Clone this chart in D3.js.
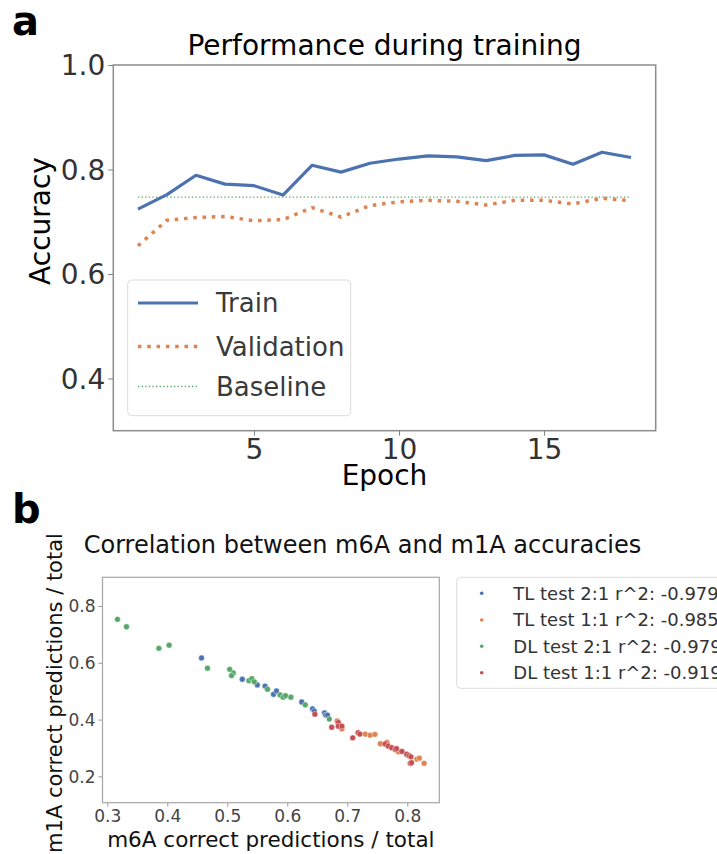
<!DOCTYPE html>
<html>
<head>
<meta charset="utf-8">
<script src="https://cdn.jsdelivr.net/npm/d3@7/dist/d3.min.js"></script>
<style>
  html, body { margin: 0; padding: 0; background: #fff; }
  svg { display: block; font-family: "DejaVu Sans", sans-serif; }
</style>
</head>
<body>
<svg id="chart" width="717" height="854"></svg>
<script>
// ---------- Panel a data ----------
const epochs = [1,2,3,4,5,6,7,8,9,10,11,12,13,14,15,16,17,18];
const trainAcc = [0.724,0.752,0.789,0.772,0.769,0.751,0.808,0.795,0.812,0.820,0.826,0.824,0.817,0.827,0.828,0.810,0.833,0.823];
const valAcc = [0.654,0.703,0.708,0.710,0.702,0.704,0.727,0.709,0.731,0.738,0.741,0.739,0.732,0.741,0.741,0.734,0.745,0.740];
const baselineAcc = 0.747;
const accTicks = [0.4,0.6,0.8,1.0];
const epochTicks = [5,10,15];
const lineLabels = ["Train","Validation","Baseline"];

// ---------- Panel b data ----------
const seriesNames = ["TL test 2:1 r^2: -0.979","TL test 1:1 r^2: -0.985","DL test 2:1 r^2: -0.979","DL test 1:1 r^2: -0.919"];
const tl21_m6A = [0.457,0.525,0.550,0.563,0.577,0.582,0.624,0.642,0.645,0.662,0.664,0.667];
const tl21_m1A = [0.617,0.542,0.522,0.518,0.489,0.501,0.462,0.438,0.430,0.424,0.416,0.416];
const tl11_m6A = [0.683,0.691,0.730,0.738,0.746,0.755,0.766,0.785,0.800,0.816,0.820,0.828];
const tl11_m1A = [0.395,0.367,0.349,0.345,0.348,0.315,0.320,0.287,0.275,0.261,0.264,0.246];
const dl21_m6A = [0.317,0.332,0.386,0.403,0.467,0.504,0.510,0.507,0.536,0.541,0.545,0.567,0.588,0.593,0.597,0.606,0.630,0.670];
const dl21_m1A = [0.753,0.727,0.651,0.662,0.581,0.577,0.564,0.555,0.537,0.544,0.533,0.507,0.487,0.479,0.484,0.479,0.452,0.402];
const dl11_m6A = [0.646,0.674,0.685,0.685,0.691,0.709,0.718,0.721,0.763,0.768,0.774,0.780,0.782,0.791,0.799,0.803,0.805,0.807,0.806];
const dl11_m1A = [0.419,0.373,0.390,0.377,0.377,0.336,0.354,0.349,0.314,0.307,0.301,0.295,0.298,0.288,0.278,0.273,0.246,0.248,0.269];
const m6ATicks = [0.3,0.4,0.5,0.6,0.7,0.8];
const m1ATicks = [0.2,0.4,0.6,0.8];

const colors = ["#4c72b0","#dd8452","#55a868","#c44e52"];
const textCol = "#262626";
const tickCol = "#333333";

const svg = d3.select("#chart");

// ================= Panel a =================
const A = {left:113.3, right:655.7, top:65, bottom:430.7};
const xA = d3.scaleLinear().domain([0.15,18.85]).range([A.left,A.right]);
const yA = d3.scaleLinear().domain([0.3,1.0]).range([A.bottom,A.top]);

svg.append("text").attr("x",12).attr("y",35).attr("font-size",40).attr("font-weight","bold")
  .attr("fill","#000").text("a");
svg.append("text").attr("x",(A.left+A.right)/2).attr("y",55).attr("text-anchor","middle")
  .attr("font-size",28).attr("fill","#000").text("Performance during training");

const gA = svg.append("g");
// axes
const yAxisA = d3.axisLeft(yA).tickValues(accTicks).tickFormat(d3.format(".1f")).tickSize(5).tickPadding(3);
const xAxisA = d3.axisBottom(xA).tickValues(epochTicks).tickFormat(d3.format("d")).tickSize(5).tickPadding(3);
const gyA = gA.append("g").attr("transform",`translate(${A.left},0)`).call(yAxisA);
const gxA = gA.append("g").attr("transform",`translate(0,${A.bottom})`).call(xAxisA);
[gyA,gxA].forEach(g=>{
  g.select(".domain").remove();
  g.selectAll(".tick line").attr("stroke","#808080").attr("stroke-width",1);
  g.selectAll(".tick text").attr("fill",tickCol).attr("font-size",28).attr("font-family","DejaVu Sans");
});
gyA.selectAll(".tick text").attr("dy","0.35em");
gxA.selectAll(".tick text").attr("dy","0.72em");

// lines
const lineGen = d3.line().x((d,i)=>xA(epochs[i])).y(d=>yA(d));
gA.append("line").attr("x1",xA(epochs[0])).attr("x2",xA(epochs[epochs.length-1]))
  .attr("y1",yA(baselineAcc)).attr("y2",yA(baselineAcc))
  .attr("stroke",colors[2]).attr("stroke-width",1.3).attr("stroke-dasharray","1.3,2.3");
gA.append("path").datum(valAcc).attr("d",lineGen).attr("fill","none")
  .attr("stroke",colors[1]).attr("stroke-width",3.5).attr("stroke-dasharray","3.5,5.8");
gA.append("path").datum(trainAcc).attr("d",lineGen).attr("fill","none")
  .attr("stroke",colors[0]).attr("stroke-width",3.2).attr("stroke-linejoin","round");

// frame
gA.append("rect").attr("x",A.left).attr("y",A.top).attr("width",A.right-A.left).attr("height",A.bottom-A.top)
  .attr("fill","none").attr("stroke","#8c8c8c").attr("stroke-width",1.5);

// axis labels
svg.append("text").attr("x",(A.left+A.right)/2).attr("y",485).attr("text-anchor","middle")
  .attr("font-size",28).attr("fill","#000").text("Epoch");
svg.append("text").attr("transform","translate(50,221) rotate(-90)").attr("text-anchor","middle")
  .attr("font-size",28).attr("fill","#000").text("Accuracy");

// legend a
const legA = svg.append("g");
legA.append("rect").attr("x",127.7).attr("y",280).attr("width",223).attr("height",135.7).attr("rx",4)
  .attr("fill","#fff").attr("fill-opacity",0.85).attr("stroke","#dcdcdc").attr("stroke-width",1);
const legRowsA = [303,346.5,386.5];
const legStyles = [
  {c:colors[0],w:3.2,d:null},
  {c:colors[1],w:3.5,d:"3.5,5.8"},
  {c:colors[2],w:1.3,d:"1.3,2.3"}
];
lineLabels.forEach((lab,i)=>{
  const l = legA.append("line").attr("x1",138).attr("x2",198).attr("y1",legRowsA[i]).attr("y2",legRowsA[i])
    .attr("stroke",legStyles[i].c).attr("stroke-width",legStyles[i].w);
  if (legStyles[i].d) l.attr("stroke-dasharray",legStyles[i].d);
  legA.append("text").attr("x",216).attr("y",legRowsA[i]).attr("dy","0.35em")
    .attr("font-size",26).attr("fill","#3a3a3a").text(lab);
});

// ================= Panel b =================
const B = {left:102.5, right:439.3, top:577.3, bottom:802.7};
const xB = d3.scaleLinear().domain([0.3-(107.3-B.left)/600, 0.3+(B.right-107.3)/600]).range([B.left,B.right]);
const yB = d3.scaleLinear().domain([0.8-(B.bottom-606)/284, 0.8+(606-B.top)/284]).range([B.bottom,B.top]);

svg.append("text").attr("x",12).attr("y",523).attr("font-size",40).attr("font-weight","bold")
  .attr("fill","#000").text("b");
svg.append("text").attr("x",362.5).attr("y",553).attr("text-anchor","middle")
  .attr("font-size",24).attr("fill","#111").text("Correlation between m6A and m1A accuracies");

const gB = svg.append("g");
const yAxisB = d3.axisLeft(yB).tickValues(m1ATicks).tickFormat(d3.format(".1f")).tickSize(4).tickPadding(3);
const xAxisB = d3.axisBottom(xB).tickValues(m6ATicks).tickFormat(d3.format(".1f")).tickSize(4).tickPadding(3);
const gyB = gB.append("g").attr("transform",`translate(${B.left},0)`).call(yAxisB);
const gxB = gB.append("g").attr("transform",`translate(0,${B.bottom})`).call(xAxisB);
[gyB,gxB].forEach(g=>{
  g.select(".domain").remove();
  g.selectAll(".tick line").attr("stroke","#999").attr("stroke-width",1);
  g.selectAll(".tick text").attr("fill","#444").attr("font-size",17).attr("font-family","DejaVu Sans");
});
gyB.selectAll(".tick text").attr("dy","0.35em");
gxB.selectAll(".tick text").attr("dy","0.72em");

gB.append("rect").attr("x",B.left).attr("y",B.top).attr("width",B.right-B.left).attr("height",B.bottom-B.top)
  .attr("fill","none").attr("stroke","#a6a6a6").attr("stroke-width",1.2);

const seriesData = [
  [tl21_m6A, tl21_m1A],
  [tl11_m6A, tl11_m1A],
  [dl21_m6A, dl21_m1A],
  [dl11_m6A, dl11_m1A]
];
seriesData.forEach(([xs,ys],si)=>{
  gB.append("g").selectAll("circle").data(xs).join("circle")
    .attr("cx",d=>xB(d)).attr("cy",(d,i)=>yB(ys[i])).attr("r",2.9)
    .attr("fill",colors[si]).attr("stroke","#fff").attr("stroke-width",0.4);
});

svg.append("text").attr("x",(B.left+B.right)/2).attr("y",847).attr("text-anchor","middle")
  .attr("font-size",21.5).attr("fill","#111").text("m6A correct predictions / total");
svg.append("text").attr("transform",`translate(62,${(B.top+B.bottom)/2+3}) rotate(-90)`).attr("text-anchor","middle")
  .attr("font-size",21).attr("fill","#111").text("m1A correct predictions / total");

// legend b
const legB = svg.append("g");
legB.append("rect").attr("x",456.7).attr("y",577.3).attr("width",300).attr("height",111).attr("rx",4)
  .attr("fill","#fff").attr("stroke","#dcdcdc").attr("stroke-width",1);
const legRowsB = [593.3,620,646.3,672.7];
seriesNames.forEach((name,i)=>{
  legB.append("circle").attr("cx",481.7).attr("cy",legRowsB[i]).attr("r",1.8).attr("fill",colors[i]);
  legB.append("text").attr("x",513.3).attr("y",legRowsB[i]).attr("dy","0.35em")
    .attr("font-size",18).attr("fill","#333").text(name);
});
</script>
</body>
</html>
